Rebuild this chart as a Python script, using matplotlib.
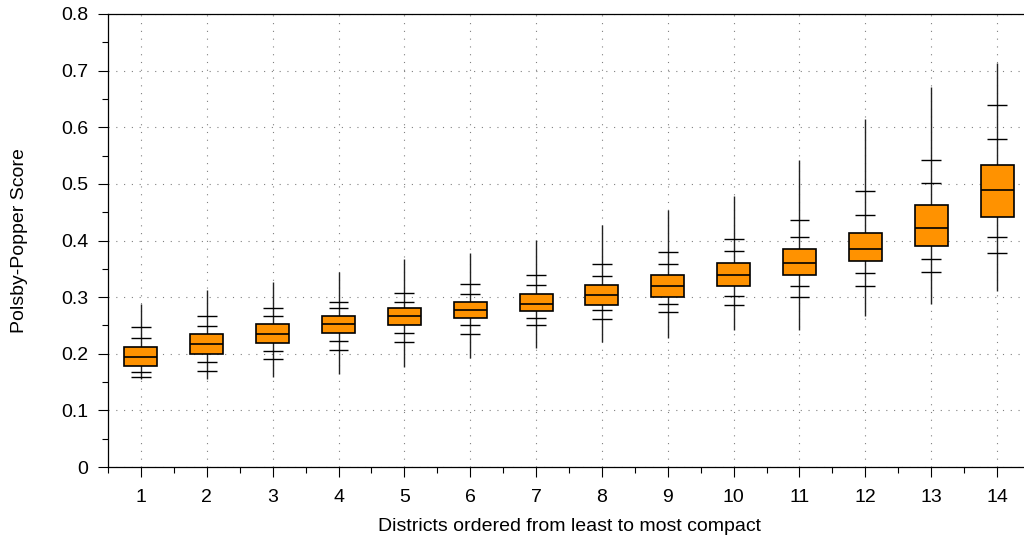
import numpy as np
import matplotlib.pyplot as plt
from matplotlib.ticker import FixedLocator

plt.rcParams['font.family'] = ['Liberation Sans', 'DejaVu Sans']

# -------------------------
# Values (per district)
# -------------------------
districts = np.arange(1, 15)
mins  = [0.156, 0.156, 0.159, 0.164, 0.176, 0.192, 0.210, 0.220, 0.227, 0.242, 0.242, 0.266, 0.287, 0.310]
lo_2  = [0.159, 0.170, 0.190, 0.207, 0.221, 0.235, 0.250, 0.262, 0.274, 0.286, 0.301, 0.320, 0.344, 0.378]
lo_1  = [0.167, 0.185, 0.205, 0.222, 0.237, 0.251, 0.264, 0.277, 0.287, 0.302, 0.320, 0.342, 0.368, 0.406]
q1    = [0.178, 0.199, 0.219, 0.236, 0.251, 0.264, 0.276, 0.286, 0.301, 0.319, 0.339, 0.363, 0.391, 0.442]
med   = [0.194, 0.217, 0.235, 0.252, 0.266, 0.278, 0.288, 0.304, 0.320, 0.339, 0.361, 0.385, 0.422, 0.490]
q3    = [0.212, 0.234, 0.252, 0.267, 0.280, 0.291, 0.305, 0.322, 0.339, 0.361, 0.385, 0.414, 0.463, 0.533]
hi_1  = [0.228, 0.249, 0.267, 0.280, 0.291, 0.305, 0.322, 0.338, 0.358, 0.381, 0.406, 0.445, 0.501, 0.579]
hi_2  = [0.247, 0.266, 0.281, 0.292, 0.307, 0.323, 0.339, 0.358, 0.379, 0.402, 0.437, 0.488, 0.542, 0.640]
maxs  = [0.288, 0.312, 0.327, 0.345, 0.368, 0.378, 0.401, 0.428, 0.453, 0.478, 0.542, 0.615, 0.671, 0.713]

y_ticks = [0.0, 0.1, 0.2, 0.3, 0.4, 0.5, 0.6, 0.7, 0.8]
y_labels = ['0', '0.1', '0.2', '0.3', '0.4', '0.5', '0.6', '0.7', '0.8']

box_w = 0.5
tick_w = 0.3
orange = '#FF9200'

fig = plt.figure(figsize=(10.24, 5.38), dpi=100)
ax = fig.add_axes([108 / 1024, 71 / 538, 922 / 1024, 453 / 538])

# grid behind everything
ax.grid(True, which='major', color='#808080', linestyle=(0, (1, 6)), linewidth=0.8, zorder=0)
ax.set_axisbelow(True)

# min-max line
ax.vlines(districts, mins, maxs, color='#222222', linewidth=1.0, zorder=2)
# percentile ticks
for arr in (lo_2, lo_1, hi_1, hi_2):
    ax.hlines(arr, districts - tick_w / 2, districts + tick_w / 2, color='black', linewidth=1.0, zorder=2)
# boxes
ax.bar(districts, np.array(q3) - np.array(q1), bottom=q1, width=box_w,
       color=orange, edgecolor='black', linewidth=1.2, zorder=3)
ax.hlines(med, districts - box_w / 2, districts + box_w / 2, color='black', linewidth=1.2, zorder=4)

ax.set_xlim(0.5, 14.5)
ax.set_ylim(0, 0.8)
ax.set_xticks(districts)
ax.xaxis.set_minor_locator(FixedLocator(np.arange(0.5, 15, 1.0)))
ax.set_yticks(y_ticks, y_labels)
ax.yaxis.set_minor_locator(FixedLocator(np.arange(0.05, 0.8, 0.1)))

ax.tick_params(axis='both', which='major', length=7.5, width=0.8, labelsize=14, direction='out')
ax.tick_params(axis='y', which='major', pad=6.5)
ax.tick_params(axis='x', which='major', pad=8)
ax.tick_params(axis='both', which='minor', length=4, width=0.8, direction='out')
ax.spines['right'].set_visible(False)
for s in ('left', 'bottom', 'top'):
    ax.spines[s].set_linewidth(0.9)

ax.set_xlabel('Districts ordered from least to most compact', fontsize=14, labelpad=9)
ax.set_ylabel('Polsby-Popper Score', fontsize=14, labelpad=24)

fig.savefig('out.png', dpi=100)
